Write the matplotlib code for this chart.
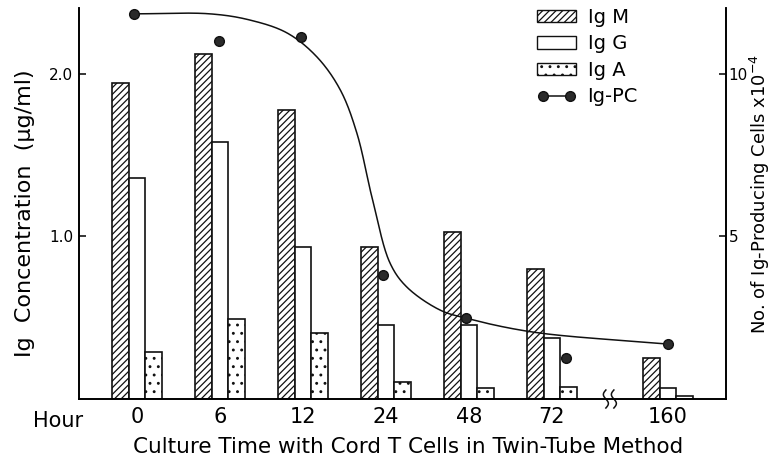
import numpy as np
import matplotlib
matplotlib.use("Agg")
import matplotlib.pyplot as plt
from matplotlib.patches import Patch
from matplotlib.lines import Line2D

# ---------------- data ----------------
hours = ["0", "6", "12", "24", "48", "72", "160"]
group_pos = [0, 1, 2, 3, 4, 5, 6.4]          # 160 h placed after an axis break
igm = [1.945, 2.12, 1.78, 0.935, 1.03, 0.80, 0.25]
igg = [1.36, 1.58, 0.935, 0.455, 0.455, 0.375, 0.07]
iga = [0.29, 0.49, 0.405, 0.105, 0.07, 0.075, 0.02]

# Ig-producing cells (x 10^-4), right axis
pc_values = [11.85, 11.0, 11.14, 3.8, 2.5, 1.26, 1.7]
pc_offset = [-0.04, -0.01, -0.02, -0.03, -0.03, 0.17, 0.0]

# hand-drawn fitted curve (x position, cells x10^-4)
curve_x = [-0.04, 0.88, 1.36, 1.81, 2.17, 2.45, 2.65, 2.84, 3.05, 3.25, 3.65, 3.96, 4.77, 6.40]
curve_y = [11.85, 11.85, 11.66, 11.26, 10.52, 9.51, 8.18, 6.12, 4.18, 3.45, 2.74, 2.49, 2.06, 1.69]

# ---------------- style ----------------
plt.rcParams['font.family'] = ['DejaVu Sans']
plt.rcParams['hatch.linewidth'] = 0.9
ink = "#111111"

fig = plt.figure(figsize=(7.74, 4.68), dpi=100)
ax = fig.add_axes([79/774, 1-399/468, (726-79)/774, (399-8)/468])
ax2 = ax.twinx()

bw = 0.2
x = np.array(group_pos)
ax.bar(x - bw, igm, width=bw, facecolor="white", edgecolor=ink, hatch="/////", linewidth=1.2, zorder=2)
ax.bar(x, igg, width=bw, facecolor="white", edgecolor=ink, linewidth=1.2, zorder=2)
ax.bar(x + bw, iga, width=bw, facecolor="white", edgecolor=ink, hatch="..", linewidth=1.2, zorder=2)

ax.set_xlim(-0.70, 7.10)
ax.set_ylim(0, 2.406)
ax2.set_ylim(0, 12.03)


def centripetal_cr(xs, ys, sx=83.0, sy=32.5, n=40, alpha=0.5):
    """Centripetal Catmull-Rom through the knots (computed in pixel-like scale)."""
    P = np.column_stack([np.asarray(xs) * sx, np.asarray(ys) * sy])
    P = np.vstack([2 * P[0] - P[1], P, 2 * P[-1] - P[-2]])
    out = []
    for i in range(1, len(P) - 2):
        p0, p1, p2, p3 = P[i - 1], P[i], P[i + 1], P[i + 2]
        t0 = 0.0
        t1 = t0 + np.linalg.norm(p1 - p0) ** alpha
        t2 = t1 + np.linalg.norm(p2 - p1) ** alpha
        t3 = t2 + np.linalg.norm(p3 - p2) ** alpha
        t = np.linspace(t1, t2, n)[:, None]
        a1 = (t1 - t) / (t1 - t0) * p0 + (t - t0) / (t1 - t0) * p1
        a2 = (t2 - t) / (t2 - t1) * p1 + (t - t1) / (t2 - t1) * p2
        a3 = (t3 - t) / (t3 - t2) * p2 + (t - t2) / (t3 - t2) * p3
        b1 = (t2 - t) / (t2 - t0) * a1 + (t - t0) / (t2 - t0) * a2
        b2 = (t3 - t) / (t3 - t1) * a2 + (t - t1) / (t3 - t1) * a3
        c = (t2 - t) / (t2 - t1) * b1 + (t - t1) / (t2 - t1) * b2
        out.append(c if not out else c[1:])
    s = np.vstack(out)
    return s[:, 0] / sx, s[:, 1] / sy

cx, cy = centripetal_cr(curve_x, curve_y)
ax2.plot(cx, cy, color=ink, linewidth=1.1, zorder=3)
ax2.plot(x + np.array(pc_offset), pc_values, linestyle="none", marker="o", markersize=7,
         markerfacecolor="#2a2a2a", markeredgecolor=ink, zorder=4)

# spines
for a in (ax, ax2):
    a.spines['top'].set_visible(False)
    a.spines['left'].set_linewidth(1.2)
    a.spines['right'].set_linewidth(1.2)
    a.spines['bottom'].set_linewidth(1.2)

ax.set_xticks(group_pos)
ax.set_xticklabels(hours, fontsize=15)
ax.tick_params(axis='x', length=0, pad=6)
ax.set_yticks([1.0, 2.0])
ax.set_yticklabels(["1.0", "2.0"], fontsize=11)
ax.tick_params(axis='y', direction='in', length=5, width=1.1, pad=4)
ax2.set_yticks([5, 10])
ax2.set_yticklabels(["5", "10"], fontsize=11)
ax2.tick_params(axis='y', direction='in', length=5, width=1.1, pad=2)

fig.text(408/774, 1-447/468, "Culture Time with Cord T Cells in Twin-Tube Method",
         fontsize=15.5, ha="center", va="center")
fig.text(25/774, 1-213/468, "Ig  Concentration  (\u03bcg/ml)", fontsize=16,
         rotation=90, ha="center", va="center")
fig.text(760/774, 1-194/468, "No. of Ig-Producing Cells x10$^{-4}$", fontsize=13,
         rotation=90, ha="center", va="center")
fig.text(58/774, 1-421/468, "Hour", fontsize=15, ha="center", va="center")

# axis break mark
fig.canvas.draw()
bx, by = ax.transData.transform((5.70, 0))
t = np.linspace(-1, 1, 40)
for off in (-4, 4):
    px = bx + off + 2.5 * np.sin(np.pi * t)
    py = by - 9 * t
    ax.plot(px, py, color=ink, linewidth=1.1, transform=None, clip_on=False, zorder=5)

handles = [
    Patch(facecolor="white", edgecolor=ink, hatch="/////", label="Ig M"),
    Patch(facecolor="white", edgecolor=ink, label="Ig G"),
    Patch(facecolor="white", edgecolor=ink, hatch="..", label="Ig A"),
    Line2D([0], [0], color=ink, linewidth=1.1, marker="o", markersize=7,
           markerfacecolor="#2a2a2a", label="Ig-PC"),
]
fig.legend(handles=handles, loc="upper left", bbox_to_anchor=(537/774, 1-8/468),
           frameon=False, fontsize=14, handlelength=2.0, handleheight=0.6,
           labelspacing=0.38, handletextpad=0.6, borderpad=0, borderaxespad=0,
           numpoints=2)

fig.savefig("out.png", dpi=100)
